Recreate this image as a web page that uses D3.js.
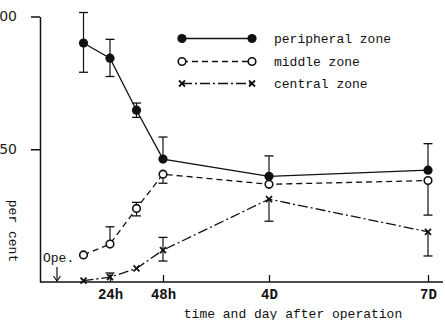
<!DOCTYPE html>
<html>
<head>
<meta charset="utf-8">
<script src="https://cdn.jsdelivr.net/npm/d3@7"></script>
<style>
  body { margin: 0; background: #fff; }
  svg { display: block; }
</style>
</head>
<body>
<div id="chart"></div>
<script>
"use strict";

var MONO = '"Liberation Mono", "DejaVu Sans Mono", monospace';

// hours after operation
var hours = [12, 24, 36, 48, 96, 168];
var tickHours = [24, 48, 96, 168];
var tickLabels = ['24h', '48h', '4D', '7D'];
var yTicks = [50, 100];

var peripheral = [90, 84.3, 64.7, 46.3, 39.8, 42.1];
var peripheralUp = [11.5, 7.1, 2.7, 8.3, 7.7, 10];
var peripheralDown = [11, 6.9, 2.7, 0, 0, 0];

var middle = [10.2, 14.3, 27.7, 40.6, 36.8, 38.2];
var middleUp = [0, 6.5, 2.3, 0, 0, 0];
var middleDown = [0, 0, 2.8, 3.4, 0, 13];

var central = [0.5, 1.8, 5.1, 12, 31.2, 18.9];
var centralUp = [0, 1.6, 0, 4.8, 0, 0];
var centralDown = [0, 0, 0, 4.1, 8.3, 9.1];

var seriesNames = ['peripheral zone', 'middle zone', 'central zone'];

var createGraph = function createGraph() {
    var width = 445, height = 320;

    var svg = d3.select('#chart').append('svg')
        .attr('width', width)
        .attr('height', height);

    var x = d3.scaleLinear().domain([0, 168]).range([57, 428]);
    var y = d3.scaleLinear().domain([0, 100]).range([282, 16.5]);

    // y axis
    var yAxis = d3.axisLeft(y).tickValues(yTicks).tickSize(9).tickSizeOuter(0).tickPadding(14);
    var gy = svg.append('g')
        .attr('transform', 'translate(40,0)')
        .call(yAxis);
    gy.select('.domain').attr('stroke', '#111').attr('stroke-width', 1.5);
    gy.selectAll('.tick line').attr('stroke', '#111').attr('stroke-width', 1.5);
    gy.selectAll('.tick text')
        .attr('font-size', 14)
        .attr('font-family', '"DejaVu Sans", sans-serif')
        .attr('fill', '#222');

    // x axis (ticks point up into the plot)
    var xAxis = d3.axisBottom(x).tickValues(tickHours)
        .tickFormat(function (d, i) { return tickLabels[i]; })
        .tickSize(-7).tickPadding(7);
    var gx = svg.append('g')
        .attr('transform', 'translate(0,' + y(0) + ')')
        .call(xAxis);
    gx.select('.domain').remove();
    gx.selectAll('.tick line').attr('stroke', '#111').attr('stroke-width', 1.3);
    gx.selectAll('.tick text')
        .attr('font-size', 14)
        .attr('font-family', MONO)
        .attr('font-weight', 'bold')
        .attr('fill', '#111');
    svg.append('line')
        .attr('x1', 40).attr('x2', 443)
        .attr('y1', y(0)).attr('y2', y(0))
        .attr('stroke', '#111').attr('stroke-width', 1.5);

    // axis titles
    svg.append('text')
        .attr('transform', 'translate(8.5,231) rotate(90)')
        .attr('text-anchor', 'middle')
        .attr('font-family', MONO)
        .attr('font-size', 13)
        .attr('fill', '#111')
        .text('per cent');
    svg.append('text')
        .attr('x', 293).attr('y', 318)
        .attr('text-anchor', 'middle')
        .attr('font-family', MONO)
        .attr('font-size', 13)
        .attr('fill', '#111')
        .text('time and day after operation');

    // operation marker
    svg.append('text')
        .attr('x', 43).attr('y', 262)
        .attr('font-family', MONO)
        .attr('font-size', 13)
        .attr('fill', '#111')
        .text('Ope.');
    svg.append('line')
        .attr('x1', x(0)).attr('x2', x(0))
        .attr('y1', 267).attr('y2', y(0) - 1)
        .attr('stroke', '#111').attr('stroke-width', 1.2);
    svg.append('path')
        .attr('d', 'M' + (x(0) - 3.5) + ',' + (y(0) - 6) + 'L' + x(0) + ',' + (y(0) - 1) + 'L' + (x(0) + 3.5) + ',' + (y(0) - 6))
        .attr('fill', 'none').attr('stroke', '#111').attr('stroke-width', 1.2);

    var series = [
        {name: seriesNames[0], values: peripheral, up: peripheralUp, down: peripheralDown, dash: null, marker: 'filled'},
        {name: seriesNames[1], values: middle, up: middleUp, down: middleDown, dash: '6,4', marker: 'open'},
        {name: seriesNames[2], values: central, up: centralUp, down: centralDown, dash: '10,3,2,3', marker: 'cross'}
    ];

    var line = d3.line()
        .x(function (d) { return x(d[0]); })
        .y(function (d) { return y(d[1]); });

    function drawMarker(g, type, cx, cy) {
        if (type === 'filled') {
            g.append('circle').attr('cx', cx).attr('cy', cy).attr('r', 4.6).attr('fill', '#111');
        } else if (type === 'open') {
            g.append('circle').attr('cx', cx).attr('cy', cy).attr('r', 3.8)
                .attr('fill', '#fff').attr('stroke', '#111').attr('stroke-width', 1.6);
        } else {
            var s = 3;
            g.append('path')
                .attr('d', 'M' + (cx - s) + ',' + (cy - s) + 'L' + (cx + s) + ',' + (cy + s) +
                    'M' + (cx - s) + ',' + (cy + s) + 'L' + (cx + s) + ',' + (cy - s))
                .attr('stroke', '#111').attr('stroke-width', 1.8);
        }
    }

    series.forEach(function (s) {
        var pts = hours.map(function (h, i) { return [h, s.values[i]]; });
        var g = svg.append('g');

        // error bars
        pts.forEach(function (p, i) {
            var top = p[1] + s.up[i], bot = p[1] - s.down[i];
            if (s.up[i] === 0 && s.down[i] === 0) return;
            g.append('line')
                .attr('x1', x(p[0])).attr('x2', x(p[0]))
                .attr('y1', y(top)).attr('y2', y(bot))
                .attr('stroke', '#111').attr('stroke-width', 1.2);
            [top, bot].forEach(function (v, k) {
                if ((k === 0 && s.up[i] === 0) || (k === 1 && s.down[i] === 0)) return;
                g.append('line')
                    .attr('x1', x(p[0]) - 4.5).attr('x2', x(p[0]) + 4.5)
                    .attr('y1', y(v)).attr('y2', y(v))
                    .attr('stroke', '#111').attr('stroke-width', 1.3);
            });
        });

        g.append('path')
            .datum(pts)
            .attr('d', line)
            .attr('fill', 'none')
            .attr('stroke', '#111')
            .attr('stroke-width', 1.3)
            .attr('stroke-dasharray', s.dash);

        pts.forEach(function (p) {
            drawMarker(g, s.marker, x(p[0]), y(p[1]));
        });
    });

    // legend
    var legendY = [38.5, 61.5, 83.5];
    series.forEach(function (s, i) {
        var g = svg.append('g');
        g.append('line')
            .attr('x1', 182).attr('x2', 252)
            .attr('y1', legendY[i]).attr('y2', legendY[i])
            .attr('stroke', '#111').attr('stroke-width', 1.3)
            .attr('stroke-dasharray', s.dash);
        drawMarker(g, s.marker, 182, legendY[i]);
        drawMarker(g, s.marker, 252, legendY[i]);
        g.append('text')
            .attr('x', 274).attr('y', legendY[i] + 4)
            .attr('font-family', MONO)
            .attr('font-size', 13)
            .attr('fill', '#111')
            .text(s.name);
    });
};

createGraph();
</script>
</body>
</html>
